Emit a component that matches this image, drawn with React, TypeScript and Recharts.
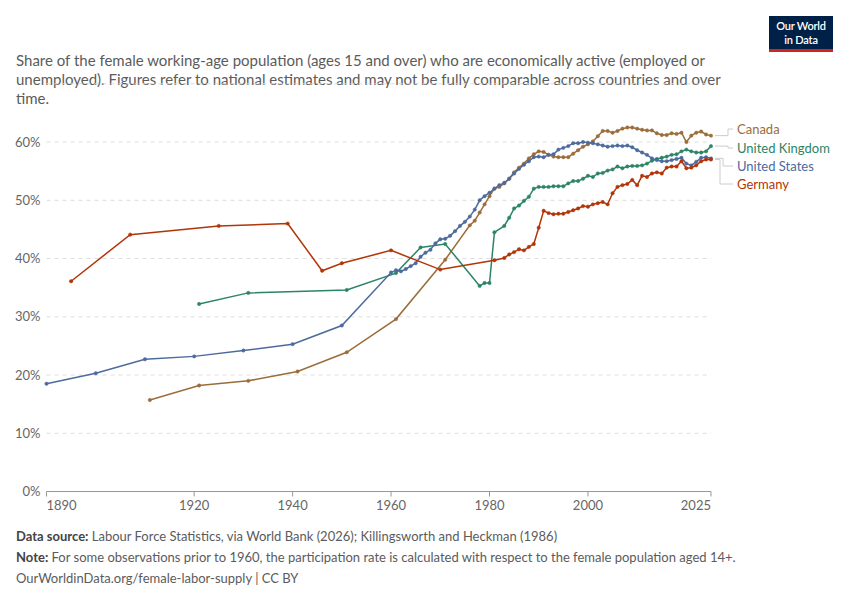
import { LineChart, Line, XAxis, YAxis, CartesianGrid, LabelList } from "recharts";

// [year, share of women 15+ in the labour force, %]
const canada: [number, number][] = [
  [1911, 15.7], [1921, 18.2], [1931, 19.0], [1941, 20.6], [1951, 23.9], [1961, 29.6], [1971, 39.8],
  [1976, 45.7], [1977, 46.5], [1978, 47.9], [1979, 49.3], [1980, 50.7], [1981, 52.0], [1982, 52.3],
  [1983, 52.9], [1984, 53.7], [1985, 54.8], [1986, 55.6], [1987, 56.3], [1988, 57.2], [1989, 57.9],
  [1990, 58.4], [1991, 58.3], [1992, 57.8], [1993, 57.5], [1994, 57.4], [1995, 57.4], [1996, 57.4],
  [1997, 58.0], [1998, 58.6], [1999, 59.2], [2000, 59.6], [2001, 60.1], [2002, 61.0], [2003, 61.9],
  [2004, 61.9], [2005, 61.6], [2006, 61.9], [2007, 62.3], [2008, 62.5], [2009, 62.5], [2010, 62.3],
  [2011, 62.1], [2012, 62.0], [2013, 62.0], [2014, 61.5], [2015, 61.2], [2016, 61.2], [2017, 61.5],
  [2018, 61.4], [2019, 61.6], [2020, 60.0], [2021, 61.1], [2022, 61.6], [2023, 61.8], [2024, 61.3],
  [2025, 61.1],
];

const unitedKingdom: [number, number][] = [
  [1921, 32.2], [1931, 34.1], [1951, 34.6], [1961, 37.5], [1966, 41.9], [1971, 42.5],
  [1978, 35.3], [1979, 35.8], [1980, 35.8], [1981, 44.5], [1983, 45.6], [1984, 47.0], [1985, 48.6],
  [1986, 49.1], [1987, 49.9], [1988, 50.6], [1989, 52.0], [1990, 52.3], [1991, 52.3], [1992, 52.3],
  [1993, 52.4], [1994, 52.4], [1995, 52.4], [1996, 52.9], [1997, 53.3], [1998, 53.3], [1999, 53.7],
  [2000, 54.2], [2001, 54.0], [2002, 54.6], [2003, 54.7], [2004, 55.1], [2005, 55.3], [2006, 55.8],
  [2007, 55.5], [2008, 55.8], [2009, 55.9], [2010, 55.9], [2011, 56.0], [2012, 56.3], [2013, 56.8],
  [2014, 57.1], [2015, 57.3], [2016, 57.5], [2017, 57.8], [2018, 57.9], [2019, 58.4], [2020, 58.7],
  [2021, 58.4], [2022, 58.2], [2023, 58.2], [2024, 58.4], [2025, 59.3],
];

const unitedStates: [number, number][] = [
  [1890, 18.5], [1900, 20.3], [1910, 22.7], [1920, 23.2], [1930, 24.2], [1940, 25.3], [1950, 28.5],
  [1960, 37.6], [1961, 38.0], [1962, 37.8], [1963, 38.2], [1964, 38.7], [1965, 39.2], [1966, 40.3],
  [1967, 41.0], [1968, 41.5], [1969, 42.6], [1970, 43.3], [1971, 43.4], [1972, 43.9], [1973, 44.7],
  [1974, 45.6], [1975, 46.3], [1976, 47.2], [1977, 48.4], [1978, 50.0], [1979, 50.7], [1980, 51.3],
  [1981, 52.0], [1982, 52.6], [1983, 53.0], [1984, 53.7], [1985, 54.6], [1986, 55.4], [1987, 56.1],
  [1988, 56.7], [1989, 57.4], [1990, 57.5], [1991, 57.4], [1992, 57.8], [1993, 57.9], [1994, 58.7],
  [1995, 59.0], [1996, 59.3], [1997, 59.8], [1998, 59.8], [1999, 60.0], [2000, 59.9], [2001, 59.8],
  [2002, 59.6], [2003, 59.4], [2004, 59.2], [2005, 59.3], [2006, 59.4], [2007, 59.3], [2008, 59.4],
  [2009, 59.1], [2010, 58.6], [2011, 58.2], [2012, 57.8], [2013, 57.2], [2014, 56.9], [2015, 56.7],
  [2016, 56.7], [2017, 56.9], [2018, 57.1], [2019, 57.3], [2020, 56.3], [2021, 56.0], [2022, 56.6],
  [2023, 57.3], [2024, 57.4], [2025, 57.2],
];

const germany: [number, number][] = [
  [1895, 36.1], [1907, 44.1], [1925, 45.6], [1939, 46.0], [1946, 37.9], [1950, 39.2], [1960, 41.4],
  [1970, 38.1], [1981, 39.7], [1983, 40.1], [1984, 40.7], [1985, 41.1], [1986, 41.6], [1987, 41.4],
  [1988, 42.0], [1989, 42.5], [1990, 45.3], [1991, 48.2], [1992, 47.8], [1993, 47.6], [1994, 47.7],
  [1995, 47.7], [1996, 48.0], [1997, 48.3], [1998, 48.6], [1999, 49.0], [2000, 48.9], [2001, 49.3],
  [2002, 49.5], [2003, 49.7], [2004, 49.3], [2005, 51.2], [2006, 52.3], [2007, 52.6], [2008, 52.8],
  [2009, 53.5], [2010, 52.6], [2011, 54.2], [2012, 54.0], [2013, 54.6], [2014, 54.8], [2015, 54.6],
  [2016, 55.6], [2017, 55.8], [2018, 55.8], [2019, 56.7], [2020, 55.5], [2021, 55.6], [2022, 56.0],
  [2023, 56.7], [2024, 57.0], [2025, 57.0],
];

const xTicks = [1890, 1920, 1940, 1960, 1980, 2000, 2025];
const yTicks = [0, 10, 20, 30, 40, 50, 60];

const series = [
  { name: "Canada", color: "#9a6d3b", rows: canada, labelY: 129, bendX: 728 },
  { name: "United Kingdom", color: "#2c8465", rows: unitedKingdom, labelY: 148, bendX: 728 },
  { name: "United States", color: "#4c6a9c", rows: unitedStates, labelY: 166, bendX: 723 },
  { name: "Germany", color: "#b13507", rows: germany, labelY: 184, bendX: 720 },
];

const FONT = "Lato, 'Noto Sans', sans-serif";
const TEXT_GREY = "#5b5b5b";

function YearTick(props: any) {
  const { x, y, payload } = props;
  const v = payload.value;
  const anchor = v === xTicks[0] ? "start" : v === xTicks[xTicks.length - 1] ? "end" : "middle";
  return (
    <text x={x} y={y} dy={11} textAnchor={anchor} fill="#666" fontSize={13} fontFamily={FONT}>
      {v}
    </text>
  );
}

// label at the end of each line, with a small elbow connector
function endLabel(name: string, color: string, lastIndex: number, labelY: number, bendX: number) {
  return (props: any) => {
    if (props.index !== lastIndex) return <g />;
    const x = props.viewBox?.x ?? props.x;
    const y = props.viewBox?.y ?? props.y;
    return (
      <g>
        <polyline
          points={`${x + 4},${y} ${bendX},${y} ${bendX},${labelY} ${x + 22},${labelY}`}
          fill="none"
          stroke="#ccc"
          strokeWidth={1}
        />
        <text x={x + 26} y={labelY} dy="0.35em" fill={color} fontSize={13} fontFamily={FONT}>
          {name}
        </text>
      </g>
    );
  };
}

export default function App() {
  return (
    <div
      style={{
        position: "absolute",
        left: 0,
        top: 0,
        width: 850,
        height: 600,
        background: "#fff",
        fontFamily: FONT,
        overflow: "hidden",
      }}
    >
      <div
        style={{
          position: "absolute",
          left: 16,
          top: 51,
          fontSize: 15,
          lineHeight: "19px",
          color: TEXT_GREY,
          whiteSpace: "nowrap",
        }}
      >
        <div>Share of the female working-age population (ages 15 and over) who are economically active (employed or</div>
        <div>unemployed). Figures refer to national estimates and may not be fully comparable across countries and over</div>
        <div>time.</div>
      </div>

      <div
        style={{
          position: "absolute",
          left: 769,
          top: 16,
          width: 64,
          height: 36,
          background: "#002147",
          borderBottom: "3px solid #ce261e",
          color: "#fff",
          fontSize: 11,
          fontWeight: 600,
          lineHeight: "13.5px",
          textAlign: "center",
          letterSpacing: -0.2,
          paddingTop: 3,
          boxSizing: "border-box",
        }}
      >
        <div>Our World</div>
        <div>in Data</div>
      </div>

      <div style={{ position: "absolute", left: 0, top: 0 }}>
        <LineChart width={850} height={600} margin={{ top: 83.8, right: 139, bottom: 78.5, left: 0 }}>
          <CartesianGrid vertical={false} stroke="#ddd" strokeDasharray="4 4" />
          <XAxis
            type="number"
            dataKey="year"
            domain={[1890, 2025]}
            ticks={xTicks}
            interval={0}
            height={30}
            axisLine={{ stroke: "#999" }}
            tickLine={{ stroke: "#999" }}
            tickSize={5}
            tickMargin={2}
            tick={<YearTick />}
          />
          <YAxis
            type="number"
            domain={[0, 70]}
            ticks={yTicks}
            interval={0}
            width={46.5}
            axisLine={false}
            tickLine={false}
            tickSize={0}
            tickMargin={6}
            tickFormatter={(v) => `${v}%`}
            tick={{ fill: "#666", fontSize: 13, fontFamily: FONT }}
          />
          {series.map((s) => {
            const data = s.rows.map(([year, value]) => ({ year, value }));
            return (
              <Line
                key={s.name}
                data={data}
                dataKey="value"
                name={s.name}
                type="linear"
                stroke={s.color}
                strokeWidth={1.5}
                dot={{ r: 1.7, fill: s.color, stroke: s.color, strokeWidth: 0.5 }}
                activeDot={false}
                isAnimationActive={false}
              >
                <LabelList
                  dataKey="value"
                  content={endLabel(s.name, s.color, data.length - 1, s.labelY, s.bendX)}
                />
              </Line>
            );
          })}
        </LineChart>
      </div>

      <div
        style={{
          position: "absolute",
          left: 16,
          top: 526,
          fontSize: 13,
          lineHeight: "21px",
          color: TEXT_GREY,
          whiteSpace: "nowrap",
        }}
      >
        <div>
          <span style={{ fontWeight: 700, color: "#444" }}>Data source:</span> Labour Force Statistics, via World Bank
          (2026); Killingsworth and Heckman (1986)
        </div>
        <div>
          <span style={{ fontWeight: 700, color: "#444" }}>Note:</span> For some observations prior to 1960, the
          participation rate is calculated with respect to the female population aged 14+.
        </div>
        <div>OurWorldinData.org/female-labor-supply | CC BY</div>
      </div>
    </div>
  );
}
